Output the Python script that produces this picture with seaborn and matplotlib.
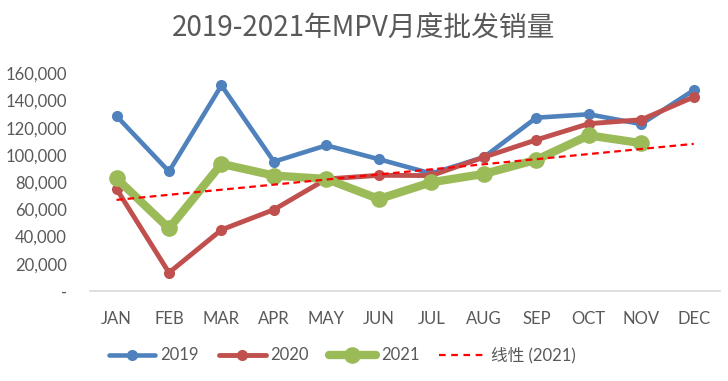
import numpy as np
import pandas as pd
import seaborn as sns
import matplotlib.pyplot as plt
from matplotlib.lines import Line2D
from matplotlib.ticker import FuncFormatter

months = ['JAN', 'FEB', 'MAR', 'APR', 'MAY', 'JUN', 'JUL', 'AUG', 'SEP', 'OCT', 'NOV', 'DEC']
sales_2019 = [128500, 87800, 151000, 95000, 107000, 96800, 86300, 98300, 127300, 129800, 122600, 147500]
sales_2020 = [75000, 13500, 45000, 59800, 82300, 85000, 84800, 98300, 111000, 122900, 125800, 142500]
sales_2021 = [82800, 46000, 93400, 84800, 82300, 67600, 79900, 86000, 96400, 114300, 108600]

sns.set_style('white')
plt.rcParams['font.family'] = ['Lato', 'Noto Sans CJK SC', 'DejaVu Sans']

grey = '#595959'
colors = {'2019': '#4F81BD', '2020': '#C0504D', '2021': '#9BBB59'}
widths = {'2019': 3.3, '2020': 3.5, '2021': 6.0}
msizes = {'2019': 8, '2020': 8, '2021': 12}

rows = []
for year, vals in [('2019', sales_2019), ('2020', sales_2020), ('2021', sales_2021)]:
    for i, v in enumerate(vals):
        rows.append({'year': year, 'idx': i, 'sales': v})
df = pd.DataFrame(rows)

fig = plt.figure(figsize=(7.28, 3.81), dpi=100)
ax = fig.add_axes([0.124, 0.236, 0.865, 0.572])

for year in ['2019', '2020', '2021']:
    sub = df[df['year'] == year]
    sns.lineplot(data=sub, x='idx', y='sales', ax=ax, color=colors[year],
                 linewidth=widths[year], marker='o', markersize=msizes[year],
                 markeredgewidth=0, clip_on=False, zorder=3)

# linear trend for 2021, extended one period forward
x21 = np.arange(len(sales_2021))
k, b = np.polyfit(x21, sales_2021, 1)
xt = np.arange(len(months))
ax.plot(xt, k * xt + b, color='#FF0000', linestyle=(0, (3, 2)), linewidth=1.6, zorder=4)

ax.set_xlim(-0.5, 11.5)
ax.set_ylim(0, 160000)
ax.set_yticks(range(0, 160001, 20000))
ax.yaxis.set_major_formatter(FuncFormatter(lambda v, p: '-' if v == 0 else f'{v:,.0f}'))
ax.set_xticks(range(len(months)))
ax.set_xticklabels(months)
ax.set_xlabel('')
ax.set_ylabel('')
ax.tick_params(axis='y', length=0, pad=17, labelsize=12, labelcolor=grey)
ax.tick_params(axis='x', length=0, pad=14, labelsize=12, labelcolor=grey)
for s in ['top', 'right', 'left']:
    ax.spines[s].set_visible(False)
ax.spines['bottom'].set_color('#D9D9D9')
ax.spines['bottom'].set_linewidth(1.2)

fig.suptitle('2019-2021年MPV月度批发销量', y=0.925, va='center', fontsize=20, color=grey,
             family=['Noto Sans CJK SC', 'DejaVu Sans'])

handles = [Line2D([], [], color=colors[y], linewidth=widths[y], marker='o', markersize=msizes[y],
                  markeredgewidth=0) for y in ['2019', '2020', '2021']]
handles.append(Line2D([], [], color='#FF0000', linestyle=(0, (3, 2.5)), linewidth=1.6))
fig.legend(handles, ['2019', '2020', '2021', '线性 (2021)'], loc='center', ncol=4,
           bbox_to_anchor=(0.47, 0.068), frameon=False, fontsize=12, labelcolor=grey,
           handlelength=2.8, columnspacing=1.2, handletextpad=0.3)

fig.savefig('out.png', dpi=100)
